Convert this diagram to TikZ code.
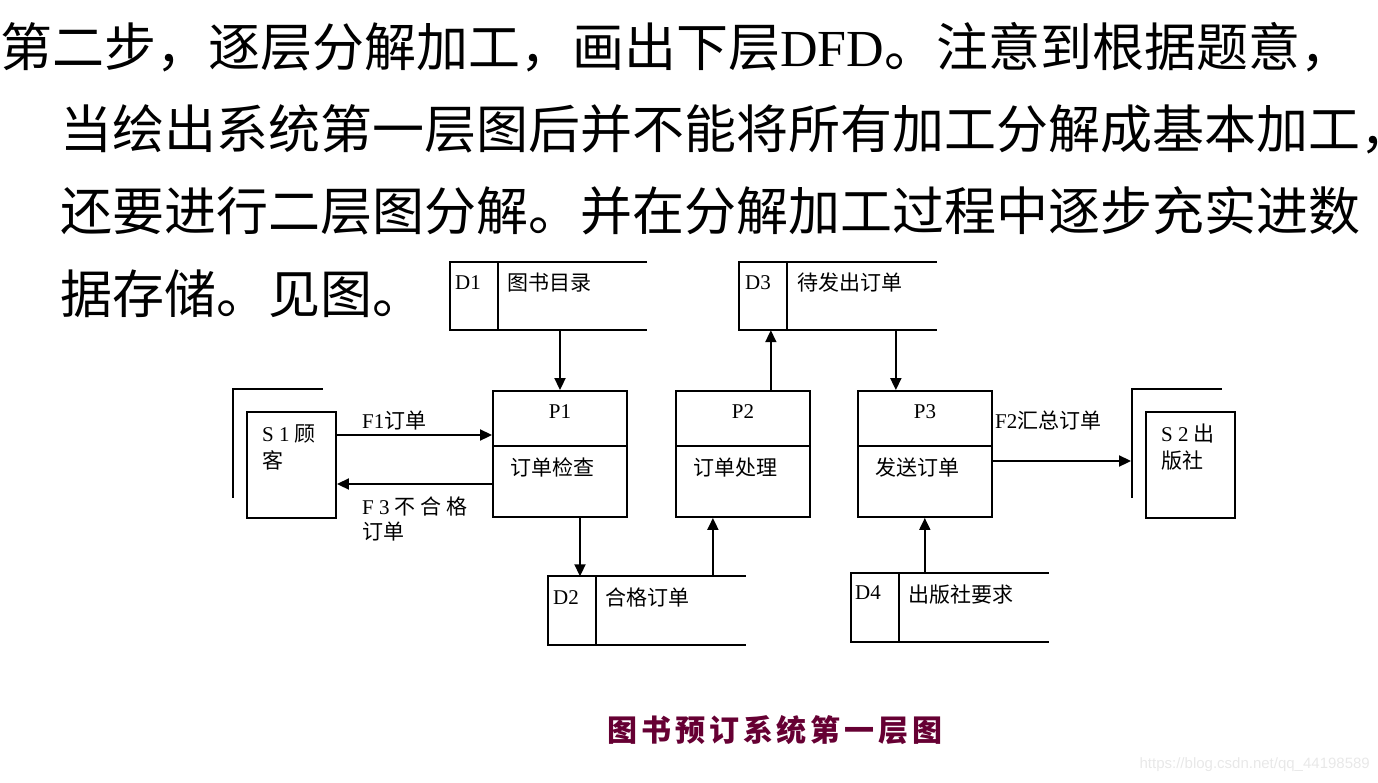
\documentclass[tikz,border=0pt]{standalone}
\usepackage{fontspec}
\setmainfont{Liberation Serif}
\newfontfamily\cjk{Noto Sans CJK SC}
\newfontfamily\cjkcap[LetterSpace=13]{Noto Sans CJK SC}
\newfontfamily\wmfont{Liberation Sans}
\usepackage{tikz}
\usetikzlibrary{arrows.meta,positioning}
\definecolor{captionred}{RGB}{102,0,51}
\tikzset{
    boxline/.style={line width=1.9pt},
    process/.style={draw,boxline,minimum width=134pt,minimum height=126pt,inner sep=0pt,
        path picture={\draw[boxline] ([yshift=-55pt]path picture bounding box.north west)
            -- ([yshift=-55pt]path picture bounding box.north east);}},
    store/.style={minimum width=197pt,minimum height=68pt,inner sep=0pt,
        append after command={\pgfextra{\let\storenode\tikzlastnode
            \draw[boxline] (\storenode.north east) -- (\storenode.north west)
                -- (\storenode.south west) -- (\storenode.south east)
                ([xshift=48pt]\storenode.north west) -- ([xshift=48pt]\storenode.south west);}}},
    entity/.style={draw,boxline,minimum width=89pt,minimum height=106pt,inner sep=0pt,
        append after command={\pgfextra{\let\entitynode\tikzlastnode
            \draw[boxline] ([shift={(-13pt,21pt)}]\entitynode.south west)
                -- ([shift={(-13pt,22pt)}]\entitynode.north west)
                -- ([shift={(-14pt,22pt)}]\entitynode.north east);}}},
    flow/.style={-{Triangle[length=12pt,width=11pt]},boxline},
    txt/.style={inner sep=0pt,anchor=base west,font=\fontsize{21}{25}\selectfont},
    heading/.style={inner sep=0pt,anchor=base west,font=\fontsize{52}{60}\selectfont}
}
\begin{document}
\begin{tikzpicture}[x=1pt,y=1pt]
\useasboundingbox (0,0) rectangle (1378,-782);

% heading text
\node[heading] (line a) at (0,-66)  {{\cjk 第二步，逐层分解加工，画出下层}DFD{\cjk 。注意到根据题意，}};
\node[heading] (line b) at (60,-148) {\cjk 当绘出系统第一层图后并不能将所有加工分解成基本加工，};
\node[heading] (line c) at (60,-230) {\cjk 还要进行二层图分解。并在分解加工过程中逐步充实进数};
\node[heading] (line d) at (60,-313) {\cjk 据存储。见图。};

% processes
\node[process] (p1) at (560,-454) {};
\node[process] (p2) [right=47pt of p1] {};
\node[process] (p3) [right=46pt of p2] {};
\node[txt,anchor=base] (p1 id) at (560,-418) {P1};
\node[txt,anchor=base] (p2 id) at (743,-418) {P2};
\node[txt,anchor=base] (p3 id) at (925,-418) {P3};
\node[txt] (p1 name) at (510,-475) {\cjk 订单检查};
\node[txt] (p2 name) at (693,-475) {\cjk 订单处理};
\node[txt] (p3 name) at (875,-475) {\cjk 发送订单};

% data stores
\node[store] (d1) at (548.5,-296) {};
\node[store] (d3) at (838,-296) {};
\node[store] (d2) at (647,-610.5) {};
\node[store] (d4) at (950,-607.5) {};
\node[txt] (d1 id) at (455,-289) {D1};
\node[txt] (d1 name) at (507,-290) {\cjk 图书目录};
\node[txt] (d3 id) at (745,-289) {D3};
\node[txt] (d3 name) at (797,-290) {\cjk 待发出订单};
\node[txt] (d2 id) at (553,-604) {D2};
\node[txt] (d2 name) at (605,-605) {\cjk 合格订单};
\node[txt] (d4 id) at (855,-599) {D4};
\node[txt] (d4 name) at (908,-602) {\cjk 出版社要求};

% external entities
\node[entity] (s1) at (291.5,-465) {};
\node[entity] (s2) at (1190.5,-465) {};
\coordinate (s2 line) at ([xshift=-14pt]s2.west);
\node[txt] (s1 name a) at (262,-441) {S 1 {\cjk 顾}};
\node[txt] (s1 name b) at (262,-468) {\cjk 客};
\node[txt] (s2 name a) at (1161,-441) {S 2 {\cjk 出}};
\node[txt] (s2 name b) at (1161,-468) {\cjk 版社};

% data flows
\draw[flow] (d1.south -| p1) -- (p1.north);
\draw[flow] ([xshift=-40pt]p2.north east) coordinate (p2 out) -- (p2 out |- d3.south);
\path ([xshift=39pt]p3.north west) coordinate (p3 in);
\draw[flow] (d3.south -| p3 in) -- (p3 in);
\draw[flow] ([yshift=30pt]s1.east) coordinate (f1 start) -- (f1 start -| p1.west);
\draw[flow] ([yshift=-30pt]p1.west) coordinate (f3 start) -- (f3 start -| s1.east);
\draw[flow] ([yshift=-7pt]p3.east) coordinate (f2 start) -- (f2 start -| s2 line);
\draw[flow] ([xshift=20pt]p1.south) coordinate (p1 out) -- (p1 out |- d2.north);
\path ([xshift=-30pt]p2.south) coordinate (p2 in);
\draw[flow] (d2.north -| p2 in) -- (p2 in);
\draw[flow] (d4.north -| p3) -- (p3.south);

% flow labels
\node[txt] (f1 label) at (362,-428) {F1{\cjk 订单}};
\node[txt] (f3 label a) at (362,-514) {F 3 {\cjk 不 合 格}};
\node[txt] (f3 label b) at (362,-539) {\cjk 订单};
\node[txt] (f2 label) at (995,-428) {F2{\cjk 汇总订单}};

% caption and watermark
\node[inner sep=0pt,font=\cjkcap\bfseries\fontsize{30}{34}\selectfont,text=captionred] (caption) at (775,-730) {图书预订系统第一层图};
\node[inner sep=0pt,anchor=east,font=\wmfont\fontsize{15}{18}\selectfont,text=black!9] (watermark) at (1370,-765) {https://blog.csdn.net/qq\_44198589};

\end{tikzpicture}
\end{document}
